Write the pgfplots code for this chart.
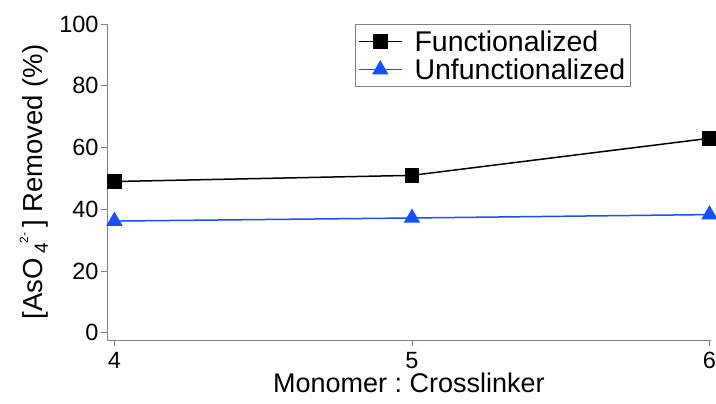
\documentclass[border=0pt]{standalone}
\usepackage{fontspec}
\setmainfont{Liberation Sans}
\usepackage{pgfplots}
\pgfplotsset{compat=1.18}
\definecolor{axgray}{RGB}{128,128,128}
\definecolor{myblue}{RGB}{20,80,255}
\begin{document}
\begin{tikzpicture}
\begin{axis}[
  name=ax,
  scale only axis,
  width=604pt, height=316pt,
  xmin=3.975, xmax=6.005,
  ymin=-2.3, ymax=100,
  axis lines*=left,
  axis line style={axgray, line width=0.8pt, -},
  xtick={4,5,6}, ytick={0,20,40,60,80,100},
  tick align=outside,
  major tick length=6pt,
  tick style={axgray, line width=0.8pt},
  /pgf/number format/assume math mode=true,
  tick label style={font=\fontsize{23.5}{26}\selectfont},
  xticklabel style={yshift=-3pt},
  yticklabel style={xshift=1pt},
  xlabel={Monomer :\ Crosslinker},
  xlabel style={font=\fontsize{27}{30}\selectfont, yshift=3pt},
  ylabel={[AsO\,\raisebox{-0.35ex}{\fontsize{19}{20}\selectfont 4}\raisebox{1.0ex}{\fontsize{12}{13}\selectfont 2-}\,] Removed (\%)},
  ylabel style={font=\fontsize{27.5}{30}\selectfont, yshift=4pt},
  legend style={at={(0.41,1)}, anchor=north west, draw=axgray, line width=0.8pt,
    font=\fontsize{28.5}{30}\selectfont, inner xsep=3pt, inner ysep=4pt, row sep=2pt,
    column sep=10pt, cells={anchor=west}},
  legend image code/.code={\draw[mark repeat=2,mark phase=2,#1] plot coordinates {(0pt,0pt) (21.5pt,0pt) (43pt,0pt)};},
]
\addplot[black, line width=1.5pt, mark=square*, mark size=6.5pt, mark options={solid}]
  coordinates {(4,49) (5,51) (6,63)};
\addlegendentry{Functionalized}
\addplot[myblue, line width=1.5pt, mark=triangle*, mark size=8pt, mark options={solid}]
  coordinates {(4,36.2) (5,37.2) (6,38.3)};
\addlegendentry{Unfunctionalized}
\end{axis}
\pgfresetboundingbox
\path ([xshift=-107pt,yshift=-64pt]ax.south west) rectangle ([xshift=5pt,yshift=24pt]ax.north east);
\end{tikzpicture}
\end{document}
